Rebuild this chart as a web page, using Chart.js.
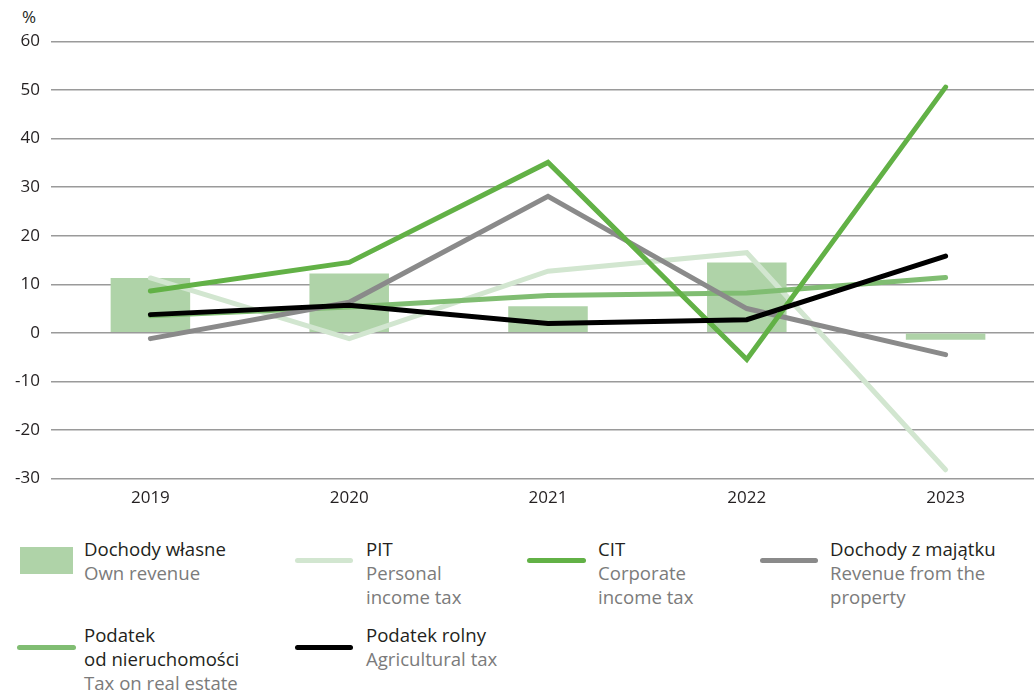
<!DOCTYPE html>
<html>
<head>
<meta charset="utf-8">
<script src="https://cdn.jsdelivr.net/npm/chart.js@4"></script>
<style>
  html, body { margin:0; padding:0; width:1034px; height:692px; overflow:hidden; background:#fff; }
  body { position:relative; font-family:"Open Sans", "Noto Sans", sans-serif; }
  #wrap { position:absolute; left:0; top:0; width:1045px; height:520px; }
  .unit { position:absolute; left:22px; top:5px; font-size:17px; color:#231f20; }
  .lg { position:absolute; font-size:18.6px; line-height:24px; color:#231f20; white-space:nowrap; }
  .lg .s { color:#7b7b7b; }
  .sw { position:absolute; }
  .ln { position:absolute; height:5px; border-radius:3px; }
</style>
</head>
<body>
<div class="unit">%</div>
<div id="wrap"><canvas id="c"></canvas></div>

<div class="sw" style="left:20px;top:547px;width:53px;height:27px;background:#afd3a8;"></div>
<div class="lg" style="left:84px;top:537px;">Dochody własne<br><span class="s">Own revenue</span></div>

<div class="ln" style="left:295px;top:557.5px;width:58px;background:#d2e6d0;"></div>
<div class="lg" style="left:366px;top:537px;">PIT<br><span class="s">Personal<br>income tax</span></div>

<div class="ln" style="left:527px;top:557.5px;width:59px;background:#62b146;"></div>
<div class="lg" style="left:598px;top:537px;">CIT<br><span class="s">Corporate<br>income tax</span></div>

<div class="ln" style="left:760px;top:557.5px;width:58px;background:#8a8a8a;"></div>
<div class="lg" style="left:830px;top:537px;">Dochody z majątku<br><span class="s">Revenue from the<br>property</span></div>

<div class="ln" style="left:17px;top:645px;width:59px;background:#80bd72;"></div>
<div class="lg" style="left:84px;top:623px;">Podatek<br>od nieruchomości<br><span class="s">Tax on real estate</span></div>

<div class="ln" style="left:295px;top:645px;width:58px;background:#000;"></div>
<div class="lg" style="left:366px;top:623px;">Podatek rolny<br><span class="s">Agricultural tax</span></div>

<script>
const years = ["2019", "2020", "2021", "2022", "2023"];
const ownRevenue = [11.3, 12.2, 5.5, 14.5, -1.4];
const pit = [11.3, -1.2, 12.7, 16.5, -28.2];
const cit = [8.6, 14.5, 35.1, -5.5, 50.6];
const propertyRevenue = [-1.2, 6.3, 28.1, 5.0, -4.5];
const realEstateTax = [3.5, 5.3, 7.7, 8.2, 11.4];
const agriculturalTax = [3.75, 5.7, 1.9, 2.7, 15.8];
const yMin = -30, yMax = 60, yStep = 10;

function lineDs(label, data, color, order) {
  return { type:'line', label, data, borderColor:color, backgroundColor:color,
    borderWidth:5, pointRadius:0, tension:0, borderCapStyle:'round',
    borderJoinStyle:'miter', order };
}

new Chart(document.getElementById('c'), {
  data: {
    labels: years,
    datasets: [
      { type:'bar', label:'Dochody własne', data:ownRevenue, backgroundColor:'#afd3a8',
        barPercentage:0.4, categoryPercentage:1.0, order:10 },
      lineDs('PIT', pit, '#d2e6d0', 9),
      lineDs('Podatek od nieruchomości', realEstateTax, '#80bd72', 8),
      lineDs('Dochody z majątku', propertyRevenue, '#8a8a8a', 7),
      lineDs('CIT', cit, '#62b146', 6),
      lineDs('Podatek rolny', agriculturalTax, '#000000', 1)
    ]
  },
  options: {
    responsive:true, maintainAspectRatio:false, animation:false,
    layout:{ padding:{ top:41.5, right:0, left:0, bottom:0 } },
    plugins:{ legend:{display:false}, tooltip:{enabled:false} },
    scales:{
      x:{
        offset:true,
        grid:{ display:false, drawTicks:false },
        border:{ display:false },
        ticks:{ color:'#231f20', font:{ family:'"Open Sans", sans-serif', size:17 }, padding:9 },
        afterFit:(s)=>{ s.height = 41.5; }
      },
      y:{
        min:yMin, max:yMax,
        grid:{ color:'#9a9a9a', lineWidth:1.5, drawTicks:false },
        border:{ display:false },
        ticks:{ stepSize:yStep, color:'#231f20', font:{ family:'"Open Sans", sans-serif', size:17 }, padding:11 },
        afterFit:(s)=>{ s.width = 51; }
      }
    }
  }
});
</script>
</body>
</html>
